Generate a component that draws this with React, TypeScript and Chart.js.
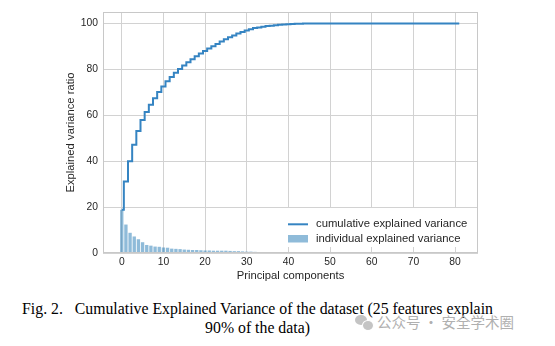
import React, { useEffect, useRef } from "react";
import { Chart, registerables } from "chart.js";

Chart.register(...registerables);

// Individual explained variance ratio (%) per principal component 0..81
const individualVariance: number[] = [
  18.8, 12.4, 8.8, 7.2, 6.0, 4.7, 3.5, 3.2, 2.8, 2.7,
  2.4, 2.3, 1.9, 1.8, 1.7, 1.5, 1.4, 1.3, 1.3, 1.2,
  1.1, 1.1, 1.0, 1.0, 1.0, 1.0, 0.9, 0.8, 0.8, 0.7,
  0.6, 0.6, 0.5, 0.3, 0.3, 0.25, 0.2, 0.2, 0.15, 0.15,
  0.1, 0.1, 0.1, 0.05, 0.05, 0.05, 0, 0, 0, 0,
  0, 0, 0, 0, 0, 0, 0, 0, 0, 0,
  0, 0, 0, 0, 0, 0, 0, 0, 0, 0,
  0, 0, 0, 0, 0, 0, 0, 0, 0, 0,
  0, 0,
];

// Cumulative explained variance (%) per principal component 0..81
const cumulativeVariance: number[] = [
  18.8, 31.2, 40.0, 47.2, 53.2, 57.9, 61.4, 64.6, 67.4, 70.1,
  72.5, 74.8, 76.7, 78.5, 80.2, 81.7, 83.1, 84.4, 85.7, 86.9,
  88.0, 89.1, 90.1, 91.1, 92.1, 93.1, 94.0, 94.8, 95.6, 96.3,
  96.9, 97.5, 98.0, 98.3, 98.6, 98.85, 99.05, 99.25, 99.4, 99.55,
  99.65, 99.75, 99.85, 99.9, 99.95, 100, 100, 100, 100, 100,
  100, 100, 100, 100, 100, 100, 100, 100, 100, 100,
  100, 100, 100, 100, 100, 100, 100, 100, 100, 100,
  100, 100, 100, 100, 100, 100, 100, 100, 100, 100,
  100, 100,
];

const xTicks: number[] = [0, 10, 20, 30, 40, 50, 60, 70, 80];
const yTicks: number[] = [0, 20, 40, 60, 80, 100];

const legendLabels: string[] = ["cumulative explained variance", "individual explained variance"];

const LINE_COLOR = "#3584c2";
const BAR_COLOR = "rgba(31,119,180,0.5)";
const TEXT_COLOR = "#262626";
const GRID_COLOR = "#d2d2d2";
const SPINE_COLOR = "#c8c8c8";
const SANS = '"Liberation Sans", Arial, sans-serif';

const framePlugin = {
  id: "frameAndLegend",
  afterDraw(chart: any) {
    const { ctx, chartArea } = chart;
    const { left, right, top, bottom } = chartArea;
    ctx.save();
    // plot frame
    ctx.strokeStyle = SPINE_COLOR;
    ctx.lineWidth = 1;
    ctx.strokeRect(left + 0.5, top + 0.5, right - left - 1, bottom - top - 1);

    // legend box (lower right)
    const boxL = right - 195;
    const boxR = right - 5.5;
    const boxT = bottom - 45;
    const boxB = bottom - 6;
    ctx.fillStyle = "#ffffff";
    ctx.fillRect(boxL, boxT, boxR - boxL, boxB - boxT);

    const handleL = right - 190;
    const handleR = right - 170;
    const textX = right - 162;
    const row1 = bottom - 28.7;
    const row2 = bottom - 14;

    ctx.strokeStyle = LINE_COLOR;
    ctx.lineWidth = 2;
    ctx.beginPath();
    ctx.moveTo(handleL, row1);
    ctx.lineTo(handleR, row1);
    ctx.stroke();

    ctx.fillStyle = BAR_COLOR;
    ctx.fillRect(handleL, row2 - 4, handleR - handleL, 7.5);

    ctx.fillStyle = TEXT_COLOR;
    ctx.font = `11.3px ${SANS}`;
    ctx.textBaseline = "middle";
    ctx.textAlign = "left";
    ctx.fillText(legendLabels[0], textX, row1);
    ctx.fillText(legendLabels[1], textX, row2);
    ctx.restore();
  },
};

export default function App() {
  const canvasRef = useRef<HTMLCanvasElement | null>(null);

  useEffect(() => {
    const canvas = canvasRef.current;
    if (!canvas) return;
    const chart = new Chart(canvas, {
      type: "bar",
      data: {
        datasets: [
          {
            type: "line",
            label: legendLabels[0],
            data: cumulativeVariance.map((v, i) => ({ x: i, y: v })),
            borderColor: LINE_COLOR,
            borderWidth: 2,
            pointRadius: 0,
            stepped: "middle",
            fill: false,
            order: 0,
          } as any,
          {
            type: "bar",
            label: legendLabels[1],
            data: individualVariance.map((v, i) => ({ x: i, y: v })),
            backgroundColor: BAR_COLOR,
            borderWidth: 0,
            barPercentage: 0.8,
            categoryPercentage: 1.0,
            order: 1,
          } as any,
        ],
      },
      options: {
        responsive: false,
        animation: false,
        layout: { padding: { left: 64, right: 77, top: 12, bottom: 7 } },
        plugins: {
          legend: { display: false },
          tooltip: { enabled: false },
        },
        scales: {
          x: {
            type: "linear",
            min: -4.5,
            max: 85.5,
            offset: false,
            afterBuildTicks: (axis: any) => {
              axis.ticks = xTicks.map((v) => ({ value: v }));
            },
            afterFit: (axis: any) => {
              axis.height = 30;
            },
            grid: { color: GRID_COLOR, drawTicks: false, offset: false, lineWidth: 1 },
            border: { display: false },
            ticks: {
              color: TEXT_COLOR,
              font: { family: SANS, size: 10.3 },
              padding: 3,
              maxRotation: 0,
              callback: (v: any) => String(v),
            },
            title: {
              display: true,
              text: "Principal components",
              color: TEXT_COLOR,
              font: { family: SANS, size: 11.25 },
              padding: { top: 0, bottom: 0 },
            },
          },
          y: {
            type: "linear",
            min: 0,
            max: 105,
            afterBuildTicks: (axis: any) => {
              axis.ticks = yTicks.map((v) => ({ value: v }));
            },
            afterFit: (axis: any) => {
              axis.width = 39;
            },
            grid: { color: GRID_COLOR, drawTicks: false, lineWidth: 1 },
            border: { display: false },
            ticks: {
              color: TEXT_COLOR,
              font: { family: SANS, size: 10.3 },
              padding: 5,
              callback: (v: any) => String(v),
            },
            title: {
              display: true,
              text: "Explained variance ratio",
              color: TEXT_COLOR,
              font: { family: SANS, size: 11.25 },
              padding: { top: 0, bottom: 0 },
            },
          },
        },
      } as any,
      plugins: [framePlugin],
    });
    return () => chart.destroy();
  }, []);

  return (
    <div
      style={{
        position: "absolute",
        left: 0,
        top: 0,
        width: 555,
        height: 346,
        background: "#ffffff",
        overflow: "hidden",
      }}
    >
      <canvas
        ref={canvasRef}
        width={555}
        height={290}
        style={{ position: "absolute", left: 0, top: 0, width: 555, height: 290 }}
      />
      <div
        style={{
          position: "absolute",
          left: 0,
          top: 300,
          width: 515,
          textAlign: "center",
          fontFamily: '"Liberation Serif", "Times New Roman", serif',
          fontSize: 15.8,
          lineHeight: "18.7px",
          color: "#000",
          whiteSpace: "nowrap",
        }}
      >
        Fig. 2.&nbsp;&nbsp;&nbsp;Cumulative Explained Variance of the dataset (25 features explain
        <br />
        90% of the data)
      </div>
      <div
        style={{
          position: "absolute",
          left: 355,
          top: 315,
          width: 12,
          height: 10,
          borderRadius: "50%",
          background: "#c4c4c4",
        }}
      />
      <div
        style={{
          position: "absolute",
          left: 362,
          top: 320,
          width: 10,
          height: 9,
          borderRadius: "50%",
          background: "#c4c4c4",
          border: "1px solid #ffffff",
        }}
      />
      <div
        style={{
          position: "absolute",
          left: 377,
          top: 313,
          fontFamily: '"Noto Sans CJK SC", sans-serif',
          fontSize: 14.5,
          lineHeight: "18px",
          color: "#b0b0b0",
          whiteSpace: "nowrap",
        }}
      >
        公众号 · 安全学术圈
      </div>
    </div>
  );
}
